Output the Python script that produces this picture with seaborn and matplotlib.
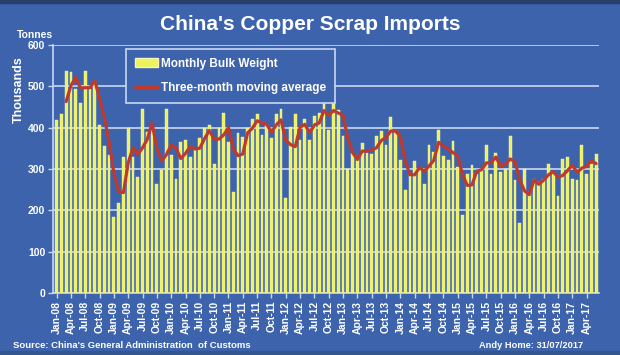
import numpy as np
import pandas as pd
import matplotlib
matplotlib.use("Agg")
import matplotlib.pyplot as plt
from matplotlib.patches import Patch, Rectangle
from matplotlib.lines import Line2D
import seaborn as sns

# Monthly copper scrap imports, thousand tonnes
imports_2008 = [418, 434, 537, 534, 494, 460, 536, 494, 512, 406, 355, 335]
imports_2009 = [183, 217, 329, 398, 328, 280, 446, 390, 398, 263, 297, 444]
imports_2010 = [333, 277, 366, 370, 328, 347, 376, 398, 406, 313, 398, 436]
imports_2011 = [366, 245, 386, 378, 398, 420, 432, 382, 410, 376, 434, 446]
imports_2012 = [229, 402, 432, 370, 422, 370, 428, 436, 460, 394, 470, 442]
imports_2013 = [379, 301, 339, 329, 362, 339, 336, 379, 392, 358, 426, 390]
imports_2014 = [321, 249, 289, 320, 301, 263, 358, 342, 394, 331, 321, 368]
imports_2015 = [305, 189, 287, 309, 287, 299, 358, 289, 339, 293, 301, 379]
imports_2016 = [273, 170, 299, 245, 275, 269, 275, 313, 293, 235, 325, 328]
imports_2017 = [275, 273, 358, 289, 313, 337]

weights = (imports_2008 + imports_2009 + imports_2010 + imports_2011 + imports_2012
           + imports_2013 + imports_2014 + imports_2015 + imports_2016 + imports_2017)
months = list(pd.date_range("2008-01-01", periods=len(weights), freq="MS").strftime("%b-%y"))
y_ticks = [0, 100, 200, 300, 400, 500, 600]

title = "China's Copper Scrap Imports"
bar_label = "Monthly Bulk Weight"
line_label = "Three-month moving average"
source = "Source: China's General Administration  of Customs"
credit = "Andy Home: 31/07/2017"

df = pd.DataFrame({"month": months, "weight": weights})
df["ma3"] = df["weight"].rolling(3).mean()

BG = "#3D63AC"
GRID = "#C9D8F2"
YELLOW = "#EEF25C"
RED = "#BC3A2E"

sns.set_style("ticks")
plt.rcParams["font.family"] = ["Liberation Sans", "DejaVu Sans"]

W, H = 620, 355
fig = plt.figure(figsize=(W / 100, H / 100), dpi=100, facecolor=BG)
ax = fig.add_axes([53 / W, 1 - 293 / H, 546 / W, 248 / H])
ax.set_facecolor(BG)

ax.yaxis.grid(True, color=GRID, lw=1.2, zorder=0)
ax.xaxis.grid(False)
ax.set_axisbelow(True)

sns.barplot(data=df, x="month", y="weight", color=YELLOW, saturation=1,
            width=0.58, edgecolor="#F7F7B8", linewidth=0.3, ax=ax, zorder=3)
sns.lineplot(data=df, x="month", y="ma3", color=RED, lw=2.3, sort=False,
             ax=ax, zorder=4)

n = len(weights)
ax.set_xlim(-0.75, n - 0.4)
ax.set_ylim(0, 600)
ax.set_xticks(range(0, n, 3))
ax.set_xticklabels(months[::3], rotation=90, fontsize=7.5, fontweight="bold", color="white")
ax.set_yticks(y_ticks)
ax.set_yticklabels([str(v) for v in y_ticks], fontsize=7.5, fontweight="bold", color="white")
ax.tick_params(axis="both", colors=GRID, labelcolor="white", length=3.5, width=1, pad=2)
ax.set_xlabel("")
ax.set_ylabel("")
for s in ["top", "right"]:
    ax.spines[s].set_visible(False)
for s in ["left", "bottom"]:
    ax.spines[s].set_color(GRID)
    ax.spines[s].set_linewidth(1.2)

handles = [Patch(facecolor=YELLOW, edgecolor="#F7F7B8"), Line2D([], [], color=RED, lw=2.4)]
leg = ax.legend(handles, [bar_label, line_label], loc="lower left",
                bbox_to_anchor=((126 - 53) / 546, (293 - 103) / 248),
                frameon=True, fancybox=False, facecolor=BG, edgecolor=GRID,
                framealpha=1, borderaxespad=0, borderpad=0.75, labelspacing=1.05,
                handlelength=2.0, handleheight=0.8, handletextpad=0.25,
                prop={"size": 8.5, "weight": "bold"})
for t in leg.get_texts():
    t.set_color("white")
leg.get_frame().set_linewidth(1.2)

fig.text(310 / W, 1 - 25 / H, title, ha="center", va="center", fontsize=15,
         fontweight="bold", color="white")
fig.text(34.5 / W, 1 - 35.5 / H, "Tonnes", ha="center", va="center", fontsize=7.5,
         fontweight="bold", color="white")
fig.text(19 / W, 1 - 90 / H, "Thousands", ha="center", va="center", rotation=90,
         fontsize=9, fontweight="bold", color="white")
fig.text(12.7 / W, 1 - 345 / H, source, ha="left", va="center", fontsize=6.8,
         fontweight="bold", color="white")
fig.text(583 / W, 1 - 345.5 / H, credit, ha="right", va="center", fontsize=6.7,
         fontweight="bold", color="white")

fig.add_artist(Rectangle((0, 1 - 3 / H), 1, 3 / H, transform=fig.transFigure,
                         color="#2A3F68", zorder=10))
fig.add_artist(Rectangle((0, 0), 1, 4 / H, transform=fig.transFigure,
                         color="#34568F", zorder=10))

fig.savefig("out.png", dpi=100, facecolor=BG)
